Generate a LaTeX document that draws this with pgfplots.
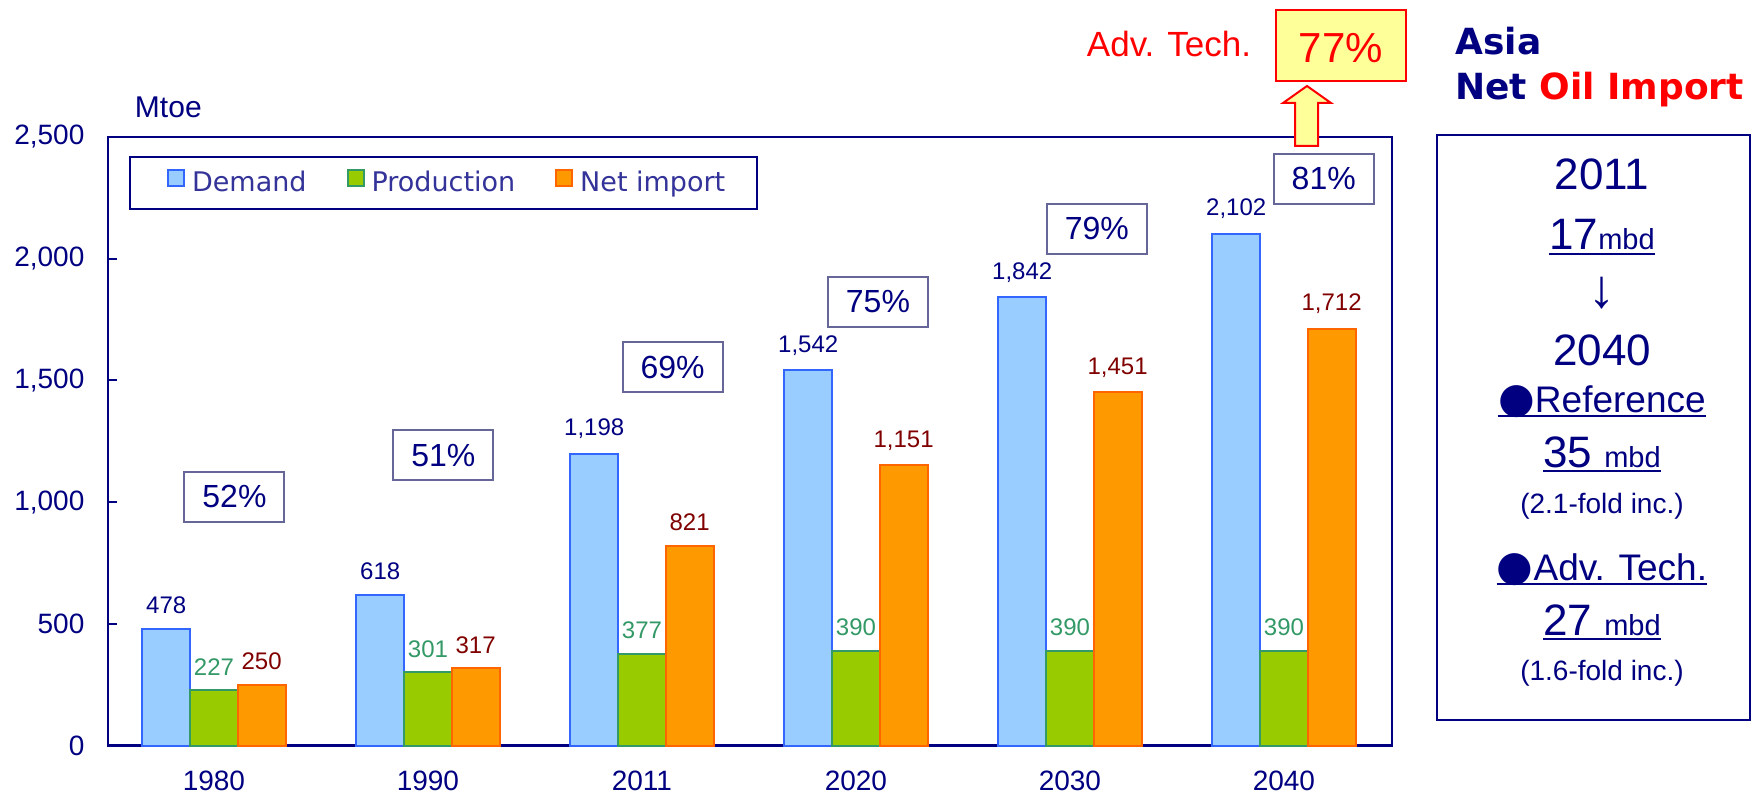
\documentclass[border=0pt]{standalone}
\usepackage{pgfplots}
\pgfplotsset{compat=1.18}
\usepackage{fontspec}
\setmainfont{Liberation Sans}
\newfontfamily\dejavu{DejaVu Sans}

\definecolor{navy}{RGB}{0,0,128}
\definecolor{legtext}{RGB}{51,51,153}
\definecolor{boxgray}{RGB}{102,102,153}
\definecolor{demfill}{RGB}{153,204,255}
\definecolor{demdraw}{RGB}{51,102,255}
\definecolor{prodfill}{RGB}{153,204,0}
\definecolor{proddraw}{RGB}{51,153,102}
\definecolor{impfill}{RGB}{255,153,0}
\definecolor{impdraw}{RGB}{255,102,0}
\definecolor{implabel}{RGB}{128,0,0}
\definecolor{lightyellow}{RGB}{255,255,153}

\tikzset{pct/.style={draw=boxgray, line width=1pt, fill=white, minimum width=50pt,
    minimum height=25pt, inner sep=0pt, text=navy, font=\fontsize{16}{18}\selectfont}}

\begin{document}
\begin{tikzpicture}
\path[use as bounding box] (0,0) rectangle (878pt,397pt);
\begin{axis}[
    at={(54pt,24.25pt)}, anchor=south west,
    scale only axis, width=642pt, height=304.25pt,
    xmin=-0.495, xmax=5.505, ymin=0, ymax=2500,
    ybar=0pt, bar width=0.223,
    xtick={0,...,5},
    xticklabels={1980,1990,2011,2020,2030,2040},
    xtick style={draw=none},
    ytick={0,500,...,2500},
    ytick pos=left,
    ytick style={navy, line width=1pt},
    major tick length=4.5pt,
    axis line style={navy, line width=1.2pt},
    tick label style={font=\fontsize{14}{16}\selectfont, text=navy},
    xticklabel style={yshift=-4.5pt},
    yticklabel style={xshift=-8.3pt},
    /pgf/number format/assume math mode=true,
    /pgf/number format/1000 sep={,},
    scaled y ticks=false,
    ylabel={Mtoe},
    ylabel style={rotate=-90, at={(axis description cs:0.047,1.048)}, anchor=center,
        font=\fontsize{15}{17}\selectfont, text=navy},
    nodes near coords,
    every node near coord/.append style={font=\fontsize{12}{14}\selectfont, inner sep=0pt, yshift=7pt},
    legend columns=3,
    legend style={at={(0.0164,0.9688)}, anchor=north west, draw=navy, line width=1pt,
        font=\dejavu\fontsize{13.5}{16}\selectfont, text=legtext,
        inner xsep=12.5pt, inner ysep=5pt,
        nodes={inner xsep=3.5pt, inner ysep=2pt},
        /tikz/every even column/.append style={column sep=10.5pt}},
    legend image code/.code={
        \path (-6pt,0pt);
        \draw[#1, line width=1pt] (0pt,-1.6pt) rectangle (8pt,6.4pt);},
    clip=false,
]
\addplot[fill=demfill, draw=demdraw, line width=1pt, bar shift=-0.223,
    every node near coord/.append style={text=navy}]
    coordinates {(0,478) (1,618) (2,1198) (3,1542) (4,1842) (5,2102)};
\addlegendentry{Demand}
\addplot[fill=prodfill, draw=proddraw, line width=1pt, bar shift=0,
    every node near coord/.append style={text=proddraw}]
    coordinates {(0,227) (1,301) (2,377) (3,390) (4,390) (5,390)};
\addlegendentry{Production}
\addplot[fill=impfill, draw=impdraw, line width=1pt, bar shift=0.223,
    every node near coord/.append style={text=implabel}]
    coordinates {(0,250) (1,317) (2,821) (3,1151) (4,1451) (5,1712)};
\addlegendentry{Net import}

% import share boxes
\node[pct] at (axis cs:0.096,1022) {52\%};
\node[pct] at (axis cs:1.072,1192) {51\%};
\node[pct] at (axis cs:2.143,1554) {69\%};
\node[pct] at (axis cs:3.103,1824) {75\%};
\node[pct] at (axis cs:4.126,2124) {79\%};
\node[pct] at (axis cs:5.186,2329) {81\%};
\end{axis}

% advanced technology case
\node[text=red, font=\fontsize{17.5}{20}\selectfont, anchor=base, inner sep=0pt] at (584.5pt,368.5pt) {Adv. Tech.};
\draw[red, line width=1pt, fill=lightyellow] (638pt,356.5pt) rectangle (703pt,392pt);
\node[text=red, font=\fontsize{21}{24}\selectfont, anchor=base, inner sep=0pt] at (670.5pt,365.5pt) {77\%};
\draw[red, line width=1pt, fill=lightyellow] (647.5pt,324pt) -- (659pt,324pt) -- (659pt,345.5pt)
    -- (665.5pt,345.5pt) -- (653.5pt,354pt) -- (641.5pt,345.5pt) -- (647.5pt,345.5pt) -- cycle;

% title
\node[anchor=base west, inner sep=0pt, text=navy, font=\dejavu\bfseries\fontsize{18}{20}\selectfont] at (727.5pt,369.5pt) {Asia};
\node[anchor=base west, inner sep=0pt, text=navy, font=\dejavu\bfseries\fontsize{18}{20}\selectfont] at (727.5pt,347pt) {Net \textcolor{red}{Oil Import}};

% right panel
\draw[navy, line width=1pt] (718.5pt,37pt) rectangle (875pt,329.5pt);
\begin{scope}[every node/.style={text=navy, inner sep=0pt, anchor=base}]
\node at (801pt,302pt) {\fontsize{22}{24}\selectfont 2011};
\node (u1) at (801pt,272pt) {{\fontsize{22}{24}\selectfont 17}{\fontsize{14.5}{16}\selectfont mbd}};
\node[anchor=center] at (801pt,250.5pt) {\fontsize{27}{28}\selectfont ↓};
\node at (801pt,214.5pt) {\fontsize{22}{24}\selectfont 2040};
\node (u2) at (801pt,191pt) {{\dejavu\fontsize{21}{22}\selectfont ●}{\fontsize{18.5}{20}\selectfont Reference}};
\node (u3) at (801pt,163.5pt) {{\fontsize{22}{24}\selectfont 35\hspace{6pt}}{\fontsize{14.5}{16}\selectfont mbd}};
\node at (801pt,140.5pt) {\fontsize{14}{16}\selectfont (2.1-fold inc.)};
\node (u4) at (801pt,107pt) {{\dejavu\fontsize{21}{22}\selectfont ●}{\fontsize{18.5}{20}\selectfont Adv. Tech.}};
\node (u5) at (801pt,79.5pt) {{\fontsize{22}{24}\selectfont 27\hspace{6pt}}{\fontsize{14.5}{16}\selectfont mbd}};
\node at (801pt,57pt) {\fontsize{14}{16}\selectfont (1.6-fold inc.)};
\end{scope}
\foreach \u in {u1,u2,u3,u4,u5}
    \draw[navy, line width=0.8pt] ([yshift=-2pt]\u.base west) -- ([yshift=-2pt]\u.base east);
\end{tikzpicture}
\end{document}
